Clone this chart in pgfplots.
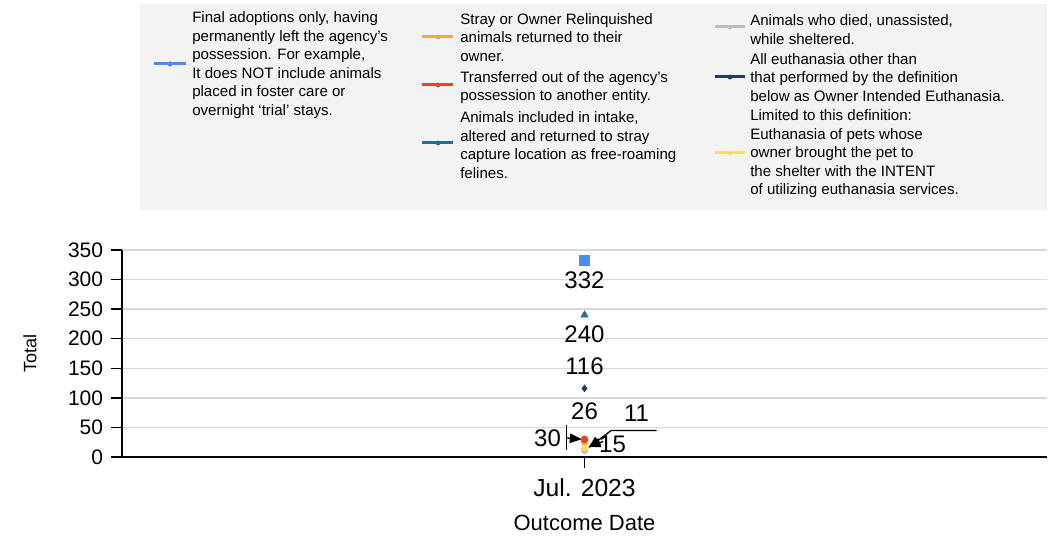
\documentclass[border=0pt]{standalone}
\usepackage{pgfplots}
\pgfplotsset{compat=1.18}
\usepackage{fontspec}
\setmainfont{Liberation Sans}
\usetikzlibrary{arrows.meta}
\definecolor{cAdopt}{HTML}{4A8CF0}
\definecolor{cRTO}{HTML}{F5A83A}
\definecolor{cTrans}{HTML}{E5461E}
\definecolor{cTNR}{HTML}{1F6E9C}
\definecolor{cDied}{HTML}{BDBDBD}
\definecolor{cEuth}{HTML}{1F3A6B}
\definecolor{cOIE}{HTML}{FCDB6A}
\definecolor{legbg}{HTML}{F3F3F3}
\definecolor{gridc}{HTML}{D9D9D9}
\begin{document}
\begin{tikzpicture}
\begin{axis}[
  at={(0,0)}, anchor=south west,
  scale only axis, width=693.75pt, height=155.25pt,
  xmin=-1, xmax=1, ymin=0, ymax=350,
  xtick={0}, xticklabels={Jul. 2023},
  ytick={0,50,100,150,200,250,300,350},
  axis lines=left, axis line style={-, black, line width=1.1pt},
  tick align=outside, major tick length=8pt,
  tick style={black, line width=1pt},
  ymajorgrids, grid style={gridc, line width=1.1pt},
  /pgf/number format/assume math mode=true,
  yticklabel style={font=\fontsize{15.75}{18}\selectfont, anchor=east, inner sep=0pt, xshift=-6pt},
  xticklabel style={font=\fontsize{18.5}{21}\selectfont, anchor=center, inner sep=0pt, yshift=-15pt},
  ylabel={Total}, xlabel={Outcome Date},
  ylabel style={font=\fontsize{13.5}{15}\selectfont, at={(axis description cs:-0.0995,0.5)}, anchor=center},
  xlabel style={font=\fontsize{16.5}{18}\selectfont, at={(axis description cs:0.5,-0.319)}, anchor=center},
  nodes near coords,
  every node near coord/.append style={font=\fontsize{18}{20}\selectfont, anchor=center, text=black},
  clip=false,
]
% Adoption
\addplot[only marks, mark=square*, mark size=3.75pt, color=cAdopt,
  every node near coord/.append style={yshift=-14.5pt}] coordinates {(0,332)};
% Return to owner
\addplot[only marks, mark=*, mark size=2.6pt, color=cRTO,
  every node near coord/.append style={yshift=23pt}] coordinates {(0,26)};
% Died
\addplot[only marks, mark=*, mark size=2.4pt, color=cDied,
  every node near coord/.append style={xshift=39pt, yshift=28pt}] coordinates {(0,11)};
% Owner intended euthanasia
\addplot[only marks, mark=*, mark size=2.4pt, color=cOIE,
  every node near coord/.append style={xshift=21pt, yshift=3pt}] coordinates {(0,15)};
% Transfer
\addplot[only marks, mark=*, mark size=2.6pt, color=cTrans,
  every node near coord/.append style={xshift=-27.75pt, yshift=1pt}] coordinates {(0,30)};
% TNR
\addplot[only marks, mark=triangle*, mark size=3.2pt, color=cTNR,
  every node near coord/.append style={yshift=-14.25pt}] coordinates {(0,240)};
% Euthanasia
\addplot[only marks, mark=diamond*, mark size=2.6pt, color=cEuth,
  every node near coord/.append style={yshift=16.8pt}] coordinates {(0,116)};
% callout leaders
\draw[black, line width=1.2pt] ([xshift=-13.5pt, yshift=-8pt]axis cs:0,30) -- ([xshift=-13.5pt, yshift=11pt]axis cs:0,30);
\draw[black, line width=1pt, -{Triangle[length=9pt,width=7pt]}] ([xshift=-13.5pt, yshift=1pt]axis cs:0,30) -- ([xshift=-2pt]axis cs:0,30);
\draw[black, line width=1pt, -{Triangle[length=9pt,width=7pt]}] ([xshift=54pt, yshift=15pt]axis cs:0,11) -- ([xshift=20pt, yshift=15pt]axis cs:0,11) -- ([xshift=3pt, yshift=2pt]axis cs:0,11);
\draw[black, line width=1pt, -{Triangle[length=9pt,width=7pt]}] ([xshift=14pt, yshift=5pt]axis cs:0,15) -- ([xshift=3pt, yshift=1pt]axis cs:0,15);
\end{axis}
% legend and bounding box in pixel coordinates of the reference
\begin{scope}[xshift=-91.5pt, yshift=342.75pt, x=0.75pt, y=-0.75pt]
\path[use as bounding box] (0,0) rectangle (1049,540);
\fill[legbg] (140,4) rectangle (1047,210);
\tikzset{legtext/.style={anchor=west, align=left, inner sep=0pt, font=\fontsize{11.3}{13.9}\selectfont}}
% column 1
\fill[cAdopt] (154,62.5) rectangle (186,65.5); \fill[cAdopt] (170,64) circle (2.6);
\node[legtext] at (192,65) {Final adoptions only, having\\permanently left the agency’s\\possession. For example,\\It does NOT include animals\\placed in foster care or\\overnight ‘trial’ stays.};
% column 2
\fill[cRTO] (422,35.5) rectangle (453,38.5); \fill[cRTO] (438,37) circle (2.4);
\node[legtext] at (460,37.5) {Stray or Owner Relinquished\\animals returned to their\\owner.};
\fill[cTrans] (422,83.5) rectangle (453,86.5); \fill[cTrans] (438,85) circle (2.4);
\node[legtext] at (460,87.5) {Transferred out of the agency’s\\possession to another entity.};
\fill[cTNR] (422,141.5) rectangle (453,144.5); \fill[cTNR] (438,143) circle (2.4);
\node[legtext] at (460,145) {Animals included in intake,\\altered and returned to stray\\capture location as free-roaming\\felines.};
% column 3
\fill[cDied] (715,25.5) rectangle (745,28.5); \fill[cDied] (730,27) circle (2.4);
\node[legtext] at (750,29.5) {Animals who died, unassisted,\\while sheltered.};
\fill[cEuth] (715,75.5) rectangle (745,78.5); \fill[cEuth] (730,77) circle (2.4);
\node[legtext] at (750,77.5) {All euthanasia other than\\that performed by the definition\\below as Owner Intended Euthanasia.};
\fill[cOIE] (715,151.5) rectangle (745,154.5); \fill[cOIE] (730,153) circle (2.4);
\node[legtext] at (750,154) {Limited to this definition:\\Euthanasia of pets whose\\owner brought the pet to\\the shelter with the INTENT\\of utilizing euthanasia services.};
\end{scope}
\end{tikzpicture}
\end{document}
